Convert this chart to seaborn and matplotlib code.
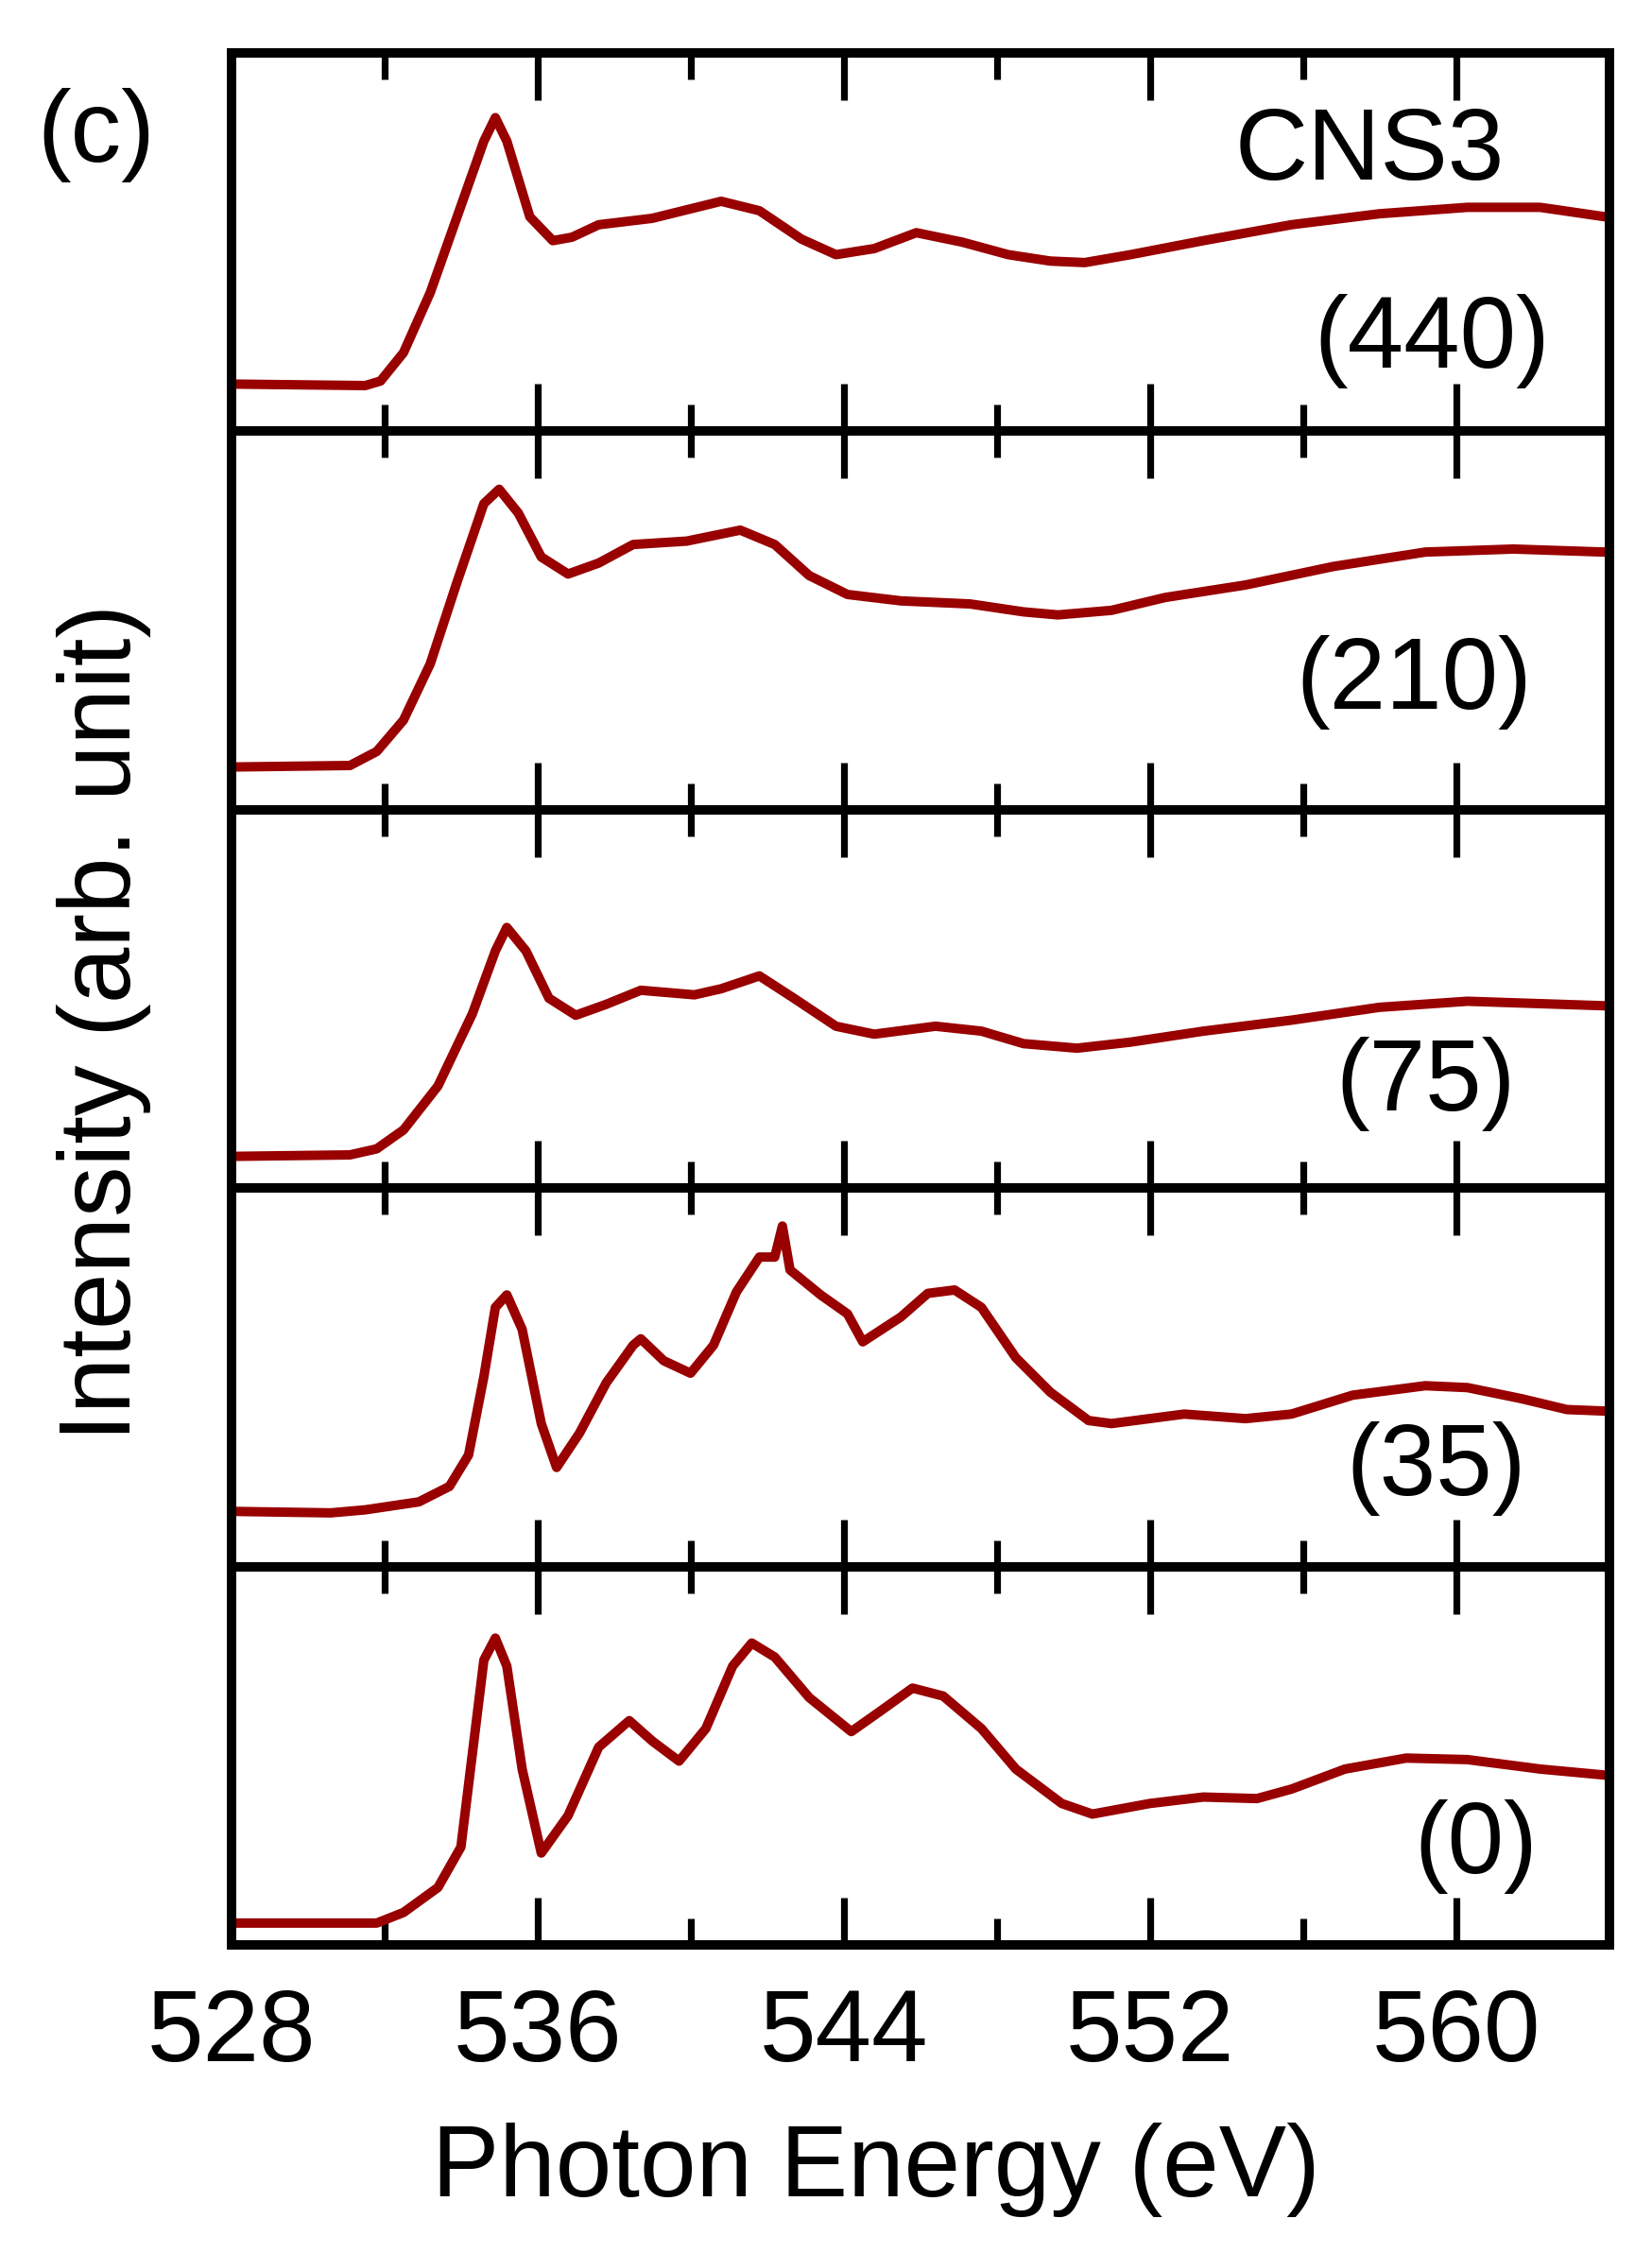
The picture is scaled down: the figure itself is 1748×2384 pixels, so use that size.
import numpy as np
import pandas as pd
import seaborn as sns
import matplotlib.pyplot as plt
from matplotlib.ticker import MultipleLocator

# O K-edge XAS spectra (intensity in panel units, 0-100)
e_440 = [528.0, 531.5, 531.9, 532.5, 533.2, 533.9, 534.6, 534.9, 535.2, 535.8, 536.4, 536.9,
         537.6, 539.0, 540.8, 541.8, 542.9, 543.8, 544.8, 545.9, 547.1, 548.3, 549.4, 550.3,
         551.5, 553.4, 555.7, 558.0, 560.3, 562.2, 563.9]
i_440 = [12.5, 12.1, 13.3, 20.8, 36.7, 56.7, 76.7, 82.9, 76.7, 56.7, 50.4, 51.3,
         54.6, 56.3, 60.8, 58.3, 50.8, 46.7, 48.3, 52.5, 50.0, 46.7, 45.0, 44.6,
         46.7, 50.4, 54.6, 57.5, 59.2, 59.2, 56.7]

e_210 = [528.0, 531.1, 531.8, 532.5, 533.2, 533.9, 534.6, 535.0, 535.5, 536.1, 536.8, 537.6,
         538.5, 539.9, 541.3, 542.2, 543.1, 544.1, 545.5, 547.3, 548.7, 549.6, 551.0, 552.4,
         554.5, 556.8, 559.2, 561.5, 563.9]
i_210 = [11.3, 11.7, 15.4, 23.7, 38.6, 60.2, 80.9, 84.7, 78.4, 66.8, 62.3, 65.2,
         70.1, 71.0, 73.9, 70.1, 61.9, 56.9, 55.2, 54.4, 52.3, 51.5, 52.7, 56.1,
         59.4, 64.3, 68.1, 68.9, 68.1]

e_75 = [528.0, 531.1, 531.8, 532.5, 533.4, 534.3, 534.9, 535.2, 535.7, 536.3, 537.0, 537.8,
        538.7, 540.1, 540.8, 541.8, 542.7, 543.8, 544.8, 546.4, 547.6, 548.7, 550.1, 551.5,
        553.4, 555.7, 558.0, 560.3, 563.9]
i_75 = [8.4, 8.8, 10.4, 15.4, 27.0, 46.1, 62.7, 68.9, 62.7, 50.2, 45.7, 48.6,
        52.3, 51.1, 52.7, 56.1, 50.2, 42.8, 40.7, 42.8, 41.5, 38.2, 37.0, 38.6,
        41.5, 44.4, 47.8, 49.4, 48.2]

e_35 = [528.0, 530.6, 531.5, 532.9, 533.7, 534.2, 534.6, 534.9, 535.2, 535.6, 536.1, 536.5,
        537.1, 537.8, 538.5, 538.7, 539.3, 540.0, 540.6, 541.2, 541.8, 542.2, 542.4, 542.6,
        543.4, 544.1, 544.5, 545.5, 546.2, 546.9, 547.6, 548.5, 549.4, 550.4, 551.0, 552.9,
        554.5, 555.7, 557.3, 559.2, 560.3, 561.7, 562.9, 563.9]
i_35 = [14.6, 14.2, 15.0, 17.1, 21.2, 29.5, 50.2, 68.5, 71.8, 62.7, 37.8, 26.2,
        35.3, 48.6, 58.5, 60.2, 54.4, 51.1, 58.5, 72.6, 81.8, 81.8, 90.0, 78.4,
        71.8, 66.8, 59.4, 66.0, 72.2, 73.1, 68.5, 55.2, 46.1, 38.6, 37.8, 40.3,
        39.1, 40.3, 45.3, 47.8, 47.3, 44.4, 41.5, 41.1]

e_0 = [528.0, 531.8, 532.5, 533.4, 534.0, 534.3, 534.6, 534.9, 535.2, 535.6, 536.1, 536.8,
       537.6, 538.4, 539.0, 539.7, 540.4, 541.1, 541.6, 542.2, 543.1, 544.2, 545.0, 545.8,
       546.6, 547.6, 548.5, 549.7, 550.5, 552.0, 553.4, 554.8, 555.7, 557.1, 558.7, 560.3,
       562.2, 563.9]
i_0 = [5.8, 5.8, 8.6, 15.2, 25.9, 50.6, 75.3, 81.1, 73.7, 46.5, 24.3, 34.2,
       52.3, 59.3, 53.9, 48.6, 57.2, 73.7, 79.8, 76.1, 65.4, 56.4, 62.1, 67.9,
       65.8, 57.2, 46.5, 37.4, 34.6, 37.4, 39.1, 38.7, 41.2, 46.5, 49.4, 49.0,
       46.5, 44.9]

labels = ['(440)', '(210)', '(75)', '(35)', '(0)']
energies = [e_440, e_210, e_75, e_35, e_0]
intensities = [i_440, i_210, i_75, i_35, i_0]
label_pos = [(0.957, 0.168), (0.944, 0.268), (0.932, 0.205), (0.940, 0.190), (0.948, 0.190)]

sns.set_theme(style='ticks')
plt.rcParams['font.family'] = ['Liberation Sans', 'DejaVu Sans']
plt.rcParams['text.color'] = 'black'
plt.rcParams['axes.labelcolor'] = 'black'
plt.rcParams['xtick.color'] = 'black'
line_color = '#990000'
fs = 38.5

fig, axes = plt.subplots(5, 1, sharex=True, figsize=(8.74, 11.92), dpi=200)
fig.subplots_adjust(left=0.140, right=0.974, top=0.9765, bottom=0.1367, hspace=0)

for ax, e, inten, lab, pos in zip(axes, energies, intensities, labels, label_pos):
    df = pd.DataFrame({'Energy': e, 'Intensity': inten})
    sns.lineplot(data=df, x='Energy', y='Intensity', ax=ax, color=line_color,
                 linewidth=3.6, estimator=None)
    ax.set_xlim(528, 564)
    ax.set_ylim(0, 100)
    ax.set_yticks([])
    ax.set_ylabel('')
    ax.set_xlabel('')
    ax.xaxis.set_major_locator(MultipleLocator(8))
    ax.xaxis.set_minor_locator(MultipleLocator(4))
    ax.tick_params(axis='x', which='both', direction='in', top=True, bottom=True,
                   width=2.6, color='black', labelcolor='black')
    ax.tick_params(axis='x', which='major', length=18, labelsize=fs, pad=16)
    ax.tick_params(axis='x', which='minor', length=10)
    for sp in ax.spines.values():
        sp.set_linewidth(3.6)
        sp.set_color('black')
    ax.text(pos[0], pos[1], lab, transform=ax.transAxes, ha='right', va='baseline',
            fontsize=fs, color='black')

axes[0].text(0.924, 0.665, 'CNS3', transform=axes[0].transAxes, ha='right',
             va='baseline', fontsize=fs, color='black')

axes[-1].set_xlabel('Photon Energy (eV)', fontsize=fs, color='black')
axes[-1].xaxis.set_label_coords(0.468, -0.47)

fig.text(0.063, 0.546, 'Intensity (arb. unit)', rotation=90, ha='center', va='center',
         fontsize=fs, color='black')
fig.text(0.058, 0.940, '(c)', ha='center', va='center', fontsize=fs, color='black')

fig.savefig('out.png', dpi=200, facecolor='white')
